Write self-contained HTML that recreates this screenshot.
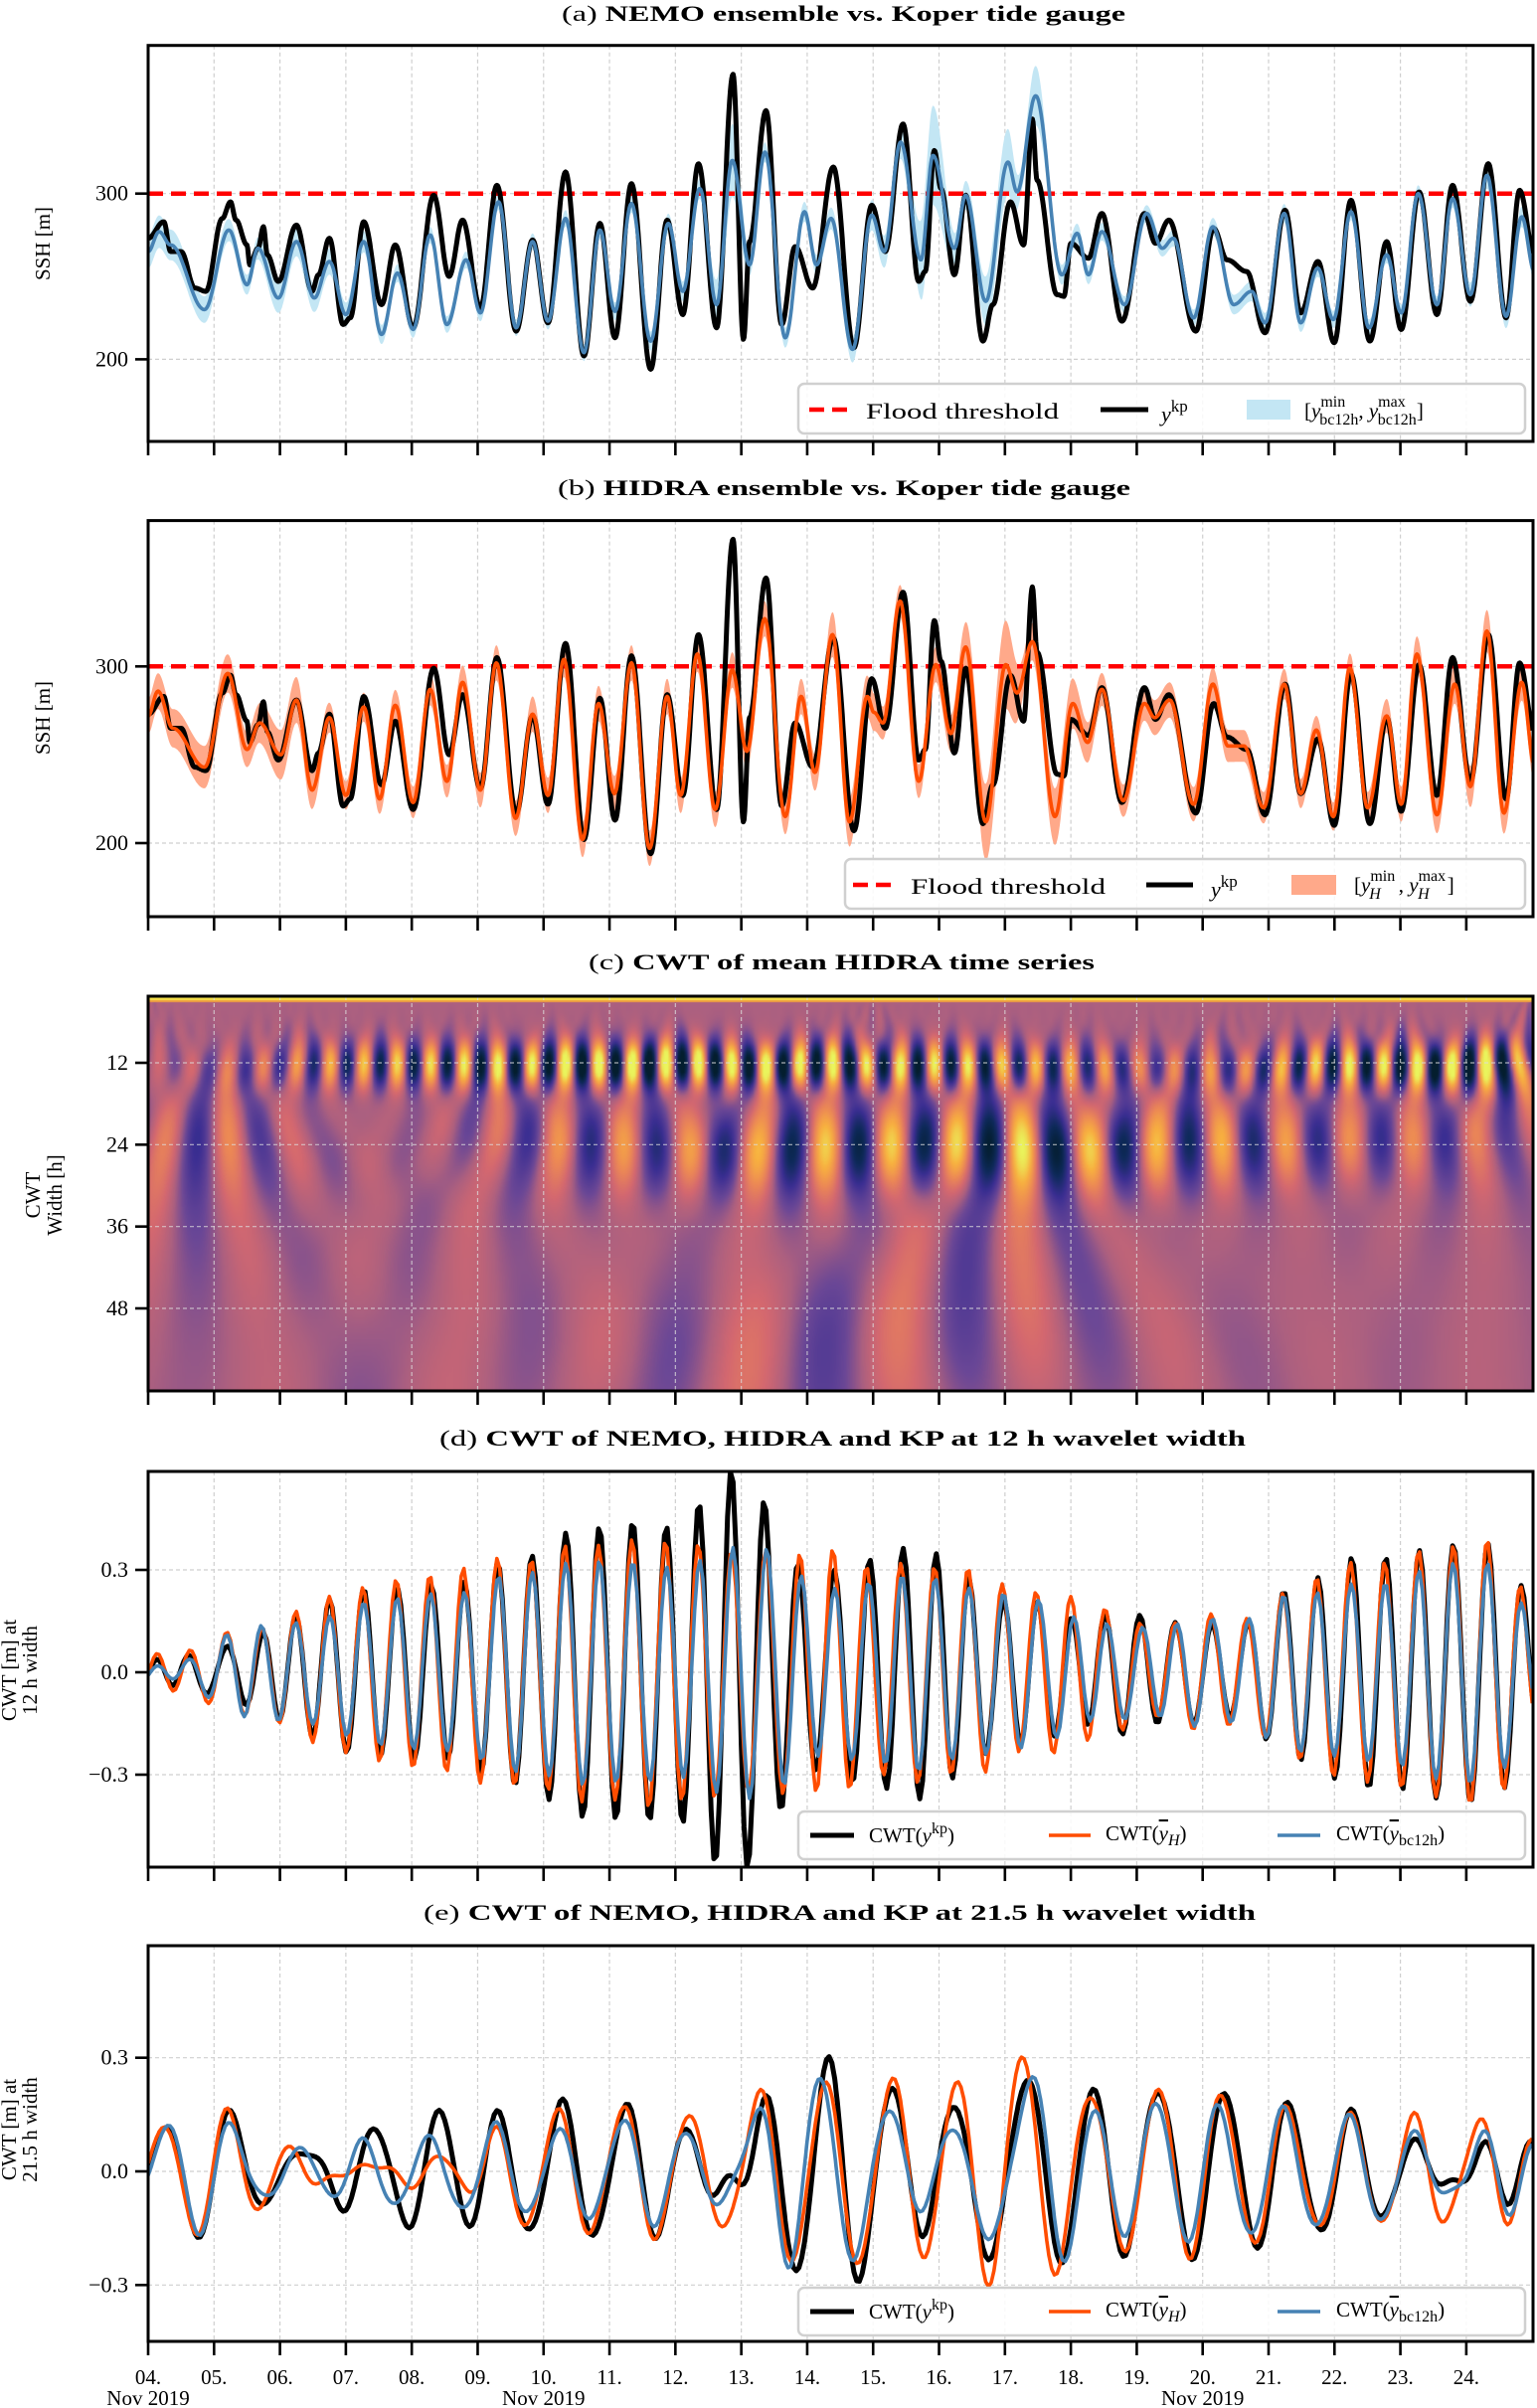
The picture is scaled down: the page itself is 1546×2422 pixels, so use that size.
<!DOCTYPE html>
<html><head><meta charset="utf-8"><title>NEMO / HIDRA ensembles vs Koper tide gauge</title>
<style>
html,body{margin:0;padding:0;background:#fff;}
#wrap{position:relative;width:1546px;height:2422px;overflow:hidden;background:#fff;}
#heat{position:absolute;left:149px;top:1002px;width:1393px;height:397px;}
#chart{position:absolute;left:0;top:0;}
text{font-family:"Liberation Serif","DejaVu Serif",serif;fill:#000;}
</style></head>
<body>
<div id="wrap">
<canvas id="heat" width="1393" height="397"></canvas>
<svg id="chart" width="1546" height="2422" xmlns="http://www.w3.org/2000/svg"></svg>
</div>
<script>
// ---------------- DATA (hours since 04 Nov 2019 00:00, SSH values) ----------------
const kpHours = [0,5.7,8.2,12,17,21,27,30,32,36,37,40,42,43.4,47.4,54,59.7,62,66,71,73.6,78.5,85,90,96.5,104,109.6,114.5,121,127,134,140,145.6,152,158.7,164.5,170,176,183,189,194.7,200.4,207,213,216.8,219,225,230.7,235.6,242,249.5,257,263.5,268.4,274.9,280.6,283,286.3,288.7,293.6,297.7,304,307.6,314,318.8,322,323.7,331,333.5,336,342.4,347.3,354.6,362.8,366.8,371.7,381.5,388,392.9,400,406.7,414,419.7,426,431.9,438,444.9,451,456.3,462.8,469.3,475,481.5,488,494.5,499.4,504.8];
const kpValues = [273,283,265,265,243,241,285,295,284,269,257,267,280,263,247,281,241,251,273,221,225,283,233,269,219,299,250,284,231,305,217,272,222,313,202,282,213,306,194,284,227,318,219,372,212,271,350,221,268,243,316,207,293,265,342,247,253,326,303,251,299,211,233,295,269,345,308,239,238,270,261,288,223,288,270,284,217,279,260,253,216,290,228,259,210,296,211,271,218,301,227,305,235,318,225,302,263];

const bcHours = [0,4,8.2,20.5,29.4,36,40,47.4,54,60.5,66,72,78.5,85,90.8,96.5,102.7,108.8,115.8,121,127.6,134,140,145.6,152,158.7,164.5,170,176,183,189.4,194.7,200.9,207,212.7,219,224.6,232,239,243.4,248.7,256.5,263.5,268,274,281.4,285.8,293.6,297.7,305,313.1,316.4,323.2,332.7,338.3,342.4,347.3,355.5,363.6,369.3,373.3,380.7,387.7,395.3,401.8,406.7,413.7,419.7,425.9,431.6,438,444.6,451,456.3,462.5,469.3,475,481.5,487.5,494.5,500.2,504.8];
const bcValues = [265,277,269,230,278,245,267,237,271,237,259,227,271,215,252,218,275,221,260,228,295,219,271,223,285,204,278,229,294,211,282,241,303,233,320,257,325,213,289,257,285,206,287,265,331,260,323,267,299,235,319,301,359,251,276,251,277,233,288,267,273,225,280,233,241,222,288,222,255,224,289,219,263,228,300,233,297,239,311,226,286,253];
const bcSpreadHours = [0,20,36,48,100,150,200,212.7,220,240,274,285.8,295,313,318,323,330,360,380,400,440,470,487,504];
const bcSpreadValues = [10,8,6,9,5,5,6,22,6,6,10,30,8,20,8,18,6,5,5,6,5,5,8,6];

const hHours = [0,3.6,9,20.5,29,36,40.6,48.3,54,59.7,66,72,78.5,84.3,90,96.5,102.7,108.8,114.5,121,126.8,133.8,140,145.6,151.4,158.2,164,169.8,176,182.6,189,193.9,200,206.5,212.7,218,224.5,232,237.8,242.8,249.2,255.4,261.9,264.3,267.6,273.8,280.6,286.8,292.3,297.7,305,312.3,316.4,322,330.2,336.7,342.1,347.3,355.1,362.8,366.5,372,380.7,387.7,393.2,399,406.2,413.7,419.7,425.4,431.6,437.6,444.1,451,456.3,462,469.3,475.8,481.5,487.5,493.7,500.2,504.8];
const hValues = [272,286,265,243,296,253,268,250,281,230,271,227,277,225,278,223,287,235,291,230,302,214,273,227,304,202,279,228,302,197,283,227,307,219,298,252,327,215,283,240,318,212,283,274,268,337,235,301,262,311,212,301,285,314,215,279,257,287,224,279,271,281,222,290,255,255,220,290,228,264,215,299,220,272,222,307,216,290,232,320,217,291,244];
const hSpreadHours = [0,20,36,48,70,100,130,160,200,240,255,270,290,312,320,330,350,370,400,430,460,490,504];
const hSpreadValues = [10,12,10,14,8,9,10,10,10,10,14,9,10,25,10,16,9,10,9,8,10,12,10];

const floodThreshold = 300;
const sshTicks = [200,300];
const widthTicks = [12,24,36,48];
const cwtTicks = [0.3,0.0,-0.3];
const cwtTickLabels = ["0.3","0.0","\u22120.3"];
const dayLabels = ["04.","05.","06.","07.","08.","09.","10.","11.","12.","13.","14.","15.","16.","17.","18.","19.","20.","21.","22.","23.","24."];
const monthLabelDays = [0,6,16];
const cwtPeriodD = 12;
const cwtPeriodE = 21.5;

// ---------------- helpers ----------------
const NS = "http://www.w3.org/2000/svg";
const svg = document.getElementById('chart');
const X0 = 149, X1 = 1542, HMAX = 504.3;
const xh = h => X0 + (h / HMAX) * (X1 - X0);
function mk(tag, attrs, parent){ const e=document.createElementNS(NS,tag); for(const k in attrs) e.setAttribute(k,attrs[k]); (parent||svg).appendChild(e); return e; }
function interp(T,V,t){
  const n=T.length; if(t<=T[0]) return V[0]; if(t>=T[n-1]) return V[n-1];
  let i=0; while(i<n-2 && T[i+1]<t) i++;
  const f=(t-T[i])/(T[i+1]-T[i]); const w=(1-Math.cos(Math.PI*f))/2;
  return V[i]+(V[i+1]-V[i])*w;
}
function pathFrom(pts){ return pts.map((p,i)=>(i?'L':'M')+p[0].toFixed(1)+' '+p[1].toFixed(1)).join(''); }
const STEP=0.25;
function sampleLine(T,V,ys){ const pts=[]; for(let h=0;h<=HMAX;h+=STEP) pts.push([xh(h),ys(interp(T,V,h))]); return pts; }
function hourly(T,V){ const a=[]; for(let h=0;h<=504;h++) a.push(interp(T,V,h)); return a; }

// CWT: Gaussian-windowed cosine of given period (hours), output in metres
function cwt(series, P, sf){
  const mean = series.reduce((a,b)=>a+b,0)/series.length;
  const x = series.map(v=>(v-mean)/100);
  const sig = (sf||0.8)*P, L = Math.ceil(3*sig);
  const ker=[]; let norm=0;
  for(let k=-L;k<=L;k++){ const g=Math.exp(-k*k/(2*sig*sig))*Math.cos(2*Math.PI*k/P); ker.push(g); norm+=g*Math.cos(2*Math.PI*k/P); }
  const out=[];
  for(let i=0;i<x.length;i++){ let s=0; for(let k=-L;k<=L;k++){ const j=i+k; if(j>=0&&j<x.length) s+=x[j]*ker[k+L]; } out.push(s/norm); }
  return out;
}

// panel geometry
const panels = {
  a:{top:45.7,bot:444, y:v=>194.7+(300-v)*1.667},
  b:{top:523.6,bot:922, y:v=>670.3+(300-v)*1.777},
  c:{top:1002,bot:1399, y:w=>1069+(w-12)*6.861},
  d:{top:1480,bot:1878, y:v=>1682-v*343.3},
  e:{top:1957,bot:2355, y:v=>2184-v*381}
};
const defs = mk('defs',{});
for(const k in panels){ const p=panels[k]; const cp=mk('clipPath',{id:'clip-'+k},defs); mk('rect',{x:X0,y:p.top,width:X1-X0,height:p.bot-p.top},cp); }

function grid(k, ticks, dark){
  const p=panels[k]; const col = dark ? 'rgba(220,220,220,0.75)' : '#cfcfcf';
  const g=mk('g',{});
  
  
  for(let d=1; d<=20; d++){ const x=xh(d*24); mk('line',{x1:x,x2:x,y1:p.top,y2:p.bot,stroke:col,'stroke-width':1.2,'stroke-dasharray':'4,3'},g); }
  ticks.forEach(t=>{ const y=p.y(t); mk('line',{x1:X0,x2:X1,y1:y,y2:y,stroke:col,'stroke-width':1.2,'stroke-dasharray':'4,3'},g); });
}
function frame(k, ticks, labels){
  const p=panels[k];
  const g=mk('g',{});
  
  
  mk('rect',{x:X0,y:p.top,width:X1-X0,height:p.bot-p.top,fill:'none',stroke:'#000','stroke-width':3},g);
  for(let d=0; d<=20; d++){ const x=xh(d*24); mk('line',{x1:x,x2:x,y1:p.bot,y2:p.bot+14,stroke:'#000','stroke-width':2.6},g); }
  ticks.forEach((t,i)=>{ const y=p.y(t); mk('line',{x1:X0-13,x2:X0,y1:y,y2:y,stroke:'#000','stroke-width':2.6},g);
    const tx=mk('text',{x:X0-20,y:y+7,'text-anchor':'end','font-size':22},g); tx.textContent=labels[i];
    
     });
}
function title(txt, bold, x1, x2, yb, name){
  const t=mk('text',{x:x1,y:yb,'font-size':22,textLength:x2-x1,lengthAdjust:'spacingAndGlyphs'});
  
  
  const a=mk('tspan',{},t); a.textContent=txt;
  const b=mk('tspan',{'font-weight':'bold'},t); b.textContent=' '+bold;
}
function ylabel(lines, xs, cy, name){
  lines.forEach((ln,i)=>{ const t=mk('text',{x:0,y:0,'font-size':21,'text-anchor':'middle',transform:`translate(${xs[i]},${cy}) rotate(-90)`}); t.textContent=ln;
    
     });
}
function legendBox(x,y,w,h,name){ const r=mk('rect',{x:x,y:y,width:w,height:h,rx:6,fill:'rgba(255,255,255,0.85)',stroke:'#d0d0d0','stroke-width':2.5});
  
   }

// ---------------- titles ----------------
title('(a)','NEMO ensemble vs. Koper tide gauge',565,1132,21,'title-a');
title('(b)','HIDRA ensemble vs. Koper tide gauge',561,1137,498,'title-b');
title('(c)','CWT of mean HIDRA time series',592,1101,975,'title-c');
title('(d)','CWT of NEMO, HIDRA and KP at 12 h wavelet width',442,1253,1454,'title-d');
title('(e)','CWT of NEMO, HIDRA and KP at 21.5 h wavelet width',426,1263,1931,'title-e');

// ---------------- panel a ----------------
(function(){
  const P=panels.a; grid('a',sshTicks);
  const g=mk('g',{'clip-path':'url(#clip-a)'});
  const up=[],lo=[];
  for(let h=0;h<=HMAX;h+=STEP){ const m=interp(bcHours,bcValues,h), s=interp(bcSpreadHours,bcSpreadValues,h); up.push([xh(h),P.y(m+s)]); lo.push([xh(h),P.y(m-s)]); }
  const band=mk('path',{d:pathFrom(up.concat(lo.reverse()))+'Z',fill:'#c3e6f4',stroke:'none'},g);
  
  
  const fl=mk('line',{x1:X0,x2:X1,y1:P.y(floodThreshold),y2:P.y(floodThreshold),stroke:'#ff0000','stroke-width':4.5,'stroke-dasharray':'15,8'},g);
  
  
  const kp=mk('path',{d:pathFrom(sampleLine(kpHours,kpValues,P.y)),fill:'none',stroke:'#000','stroke-width':5,'stroke-linejoin':'round'},g);
  
  
  const bl=mk('path',{d:pathFrom(sampleLine(bcHours,bcValues,P.y)),fill:'none',stroke:'#4682b4','stroke-width':3.6,'stroke-linejoin':'round'},g);
  
  
  frame('a',sshTicks,sshTicks.map(String));
  ylabel(['SSH [m]'],[50],245,'y-axis-title-a');
})();

// ---------------- panel b ----------------
(function(){
  const P=panels.b; grid('b',sshTicks);
  const g=mk('g',{'clip-path':'url(#clip-b)'});
  const up=[],lo=[];
  for(let h=0;h<=HMAX;h+=STEP){ const m=interp(hHours,hValues,h), s=interp(hSpreadHours,hSpreadValues,h); up.push([xh(h),P.y(m+s)]); lo.push([xh(h),P.y(m-s)]); }
  const band=mk('path',{d:pathFrom(up.concat(lo.reverse()))+'Z',fill:'#ffa98a',stroke:'none'},g);
  
  
  const fl=mk('line',{x1:X0,x2:X1,y1:P.y(floodThreshold),y2:P.y(floodThreshold),stroke:'#ff0000','stroke-width':4.5,'stroke-dasharray':'15,8'},g);
  
  
  const kp=mk('path',{d:pathFrom(sampleLine(kpHours,kpValues,P.y)),fill:'none',stroke:'#000','stroke-width':5,'stroke-linejoin':'round'},g);
  
  
  const ol=mk('path',{d:pathFrom(sampleLine(hHours,hValues,P.y)),fill:'none',stroke:'#ff4d00','stroke-width':3.6,'stroke-linejoin':'round'},g);
  
  
  frame('b',sshTicks,sshTicks.map(String));
  ylabel(['SSH [m]'],[50],722,'y-axis-title-b');
})();

// ---------------- panel c (heatmap) ----------------
(function(){
  const P=panels.c;
  const hs = hourly(hHours,hValues);
  const wMin=2.2, wMax=60.1, rows=117;
  const off=document.createElement('canvas'); off.width=505; off.height=rows;
  const octx=off.getContext('2d'); const img=octx.createImageData(505,rows);
  const stops=[[0,[4,30,46]],[0.13,[14,42,90]],[0.27,[58,46,146]],[0.4,[108,72,150]],[0.5,[172,96,128]],[0.6,[212,104,112]],[0.72,[236,136,86]],[0.85,[248,176,64]],[1,[234,244,92]]];
  function cmap(t){ t=Math.max(0,Math.min(1,t)); for(let i=0;i<stops.length-1;i++){ if(t<=stops[i+1][0]){ const f=(t-stops[i][0])/(stops[i+1][0]-stops[i][0]); return stops[i][1].map((c,j)=>c+(stops[i+1][1][j]-c)*f); } } return stops[stops.length-1][1]; }
  for(let r=0;r<rows;r++){
    const w=wMin+(wMax-wMin)*(r+0.5)/rows;
    const c=cwt(hs,w);
    for(let i=0;i<505;i++){ const col=cmap(0.5+c[i]/0.6); const o=(r*505+i)*4; img.data[o]=col[0]; img.data[o+1]=col[1]; img.data[o+2]=col[2]; img.data[o+3]=255; }
  }
  octx.putImageData(img,0,0);
  const cv=document.getElementById('heat'); const ctx=cv.getContext('2d');
  ctx.imageSmoothingEnabled=true;
  ctx.drawImage(off,0,0,505,rows,0,0,(504/HMAX)*1393,397);
  ctx.fillStyle='#f5e04a'; ctx.fillRect(0,0,1393,4);
  ctx.fillStyle='#f0a040'; ctx.fillRect(0,4,1393,2);
  grid('c',widthTicks,true);
  frame('c',widthTicks,widthTicks.map(String));
  ylabel(['CWT','Width [h]'],[40,62],1202,'y-axis-title-c');
})();

// ---------------- panels d & e ----------------
function cwtPanel(k, period, sf, ylab, cy){
  const P=panels[k]; grid(k,cwtTicks);
  const g=mk('g',{'clip-path':`url(#clip-${k})`});
  const series=[[kpHours,kpValues,'#000',5,'cwt-kp-line'],[hHours,hValues,'#ff4d00',3.6,'cwt-hidra-line'],[bcHours,bcValues,'#4682b4',3.6,'cwt-nemo-line']];
  series.forEach(s=>{
    const c=cwt(hourly(s[0],s[1]),period,sf);
    const pts=[]; for(let h=0;h<=504;h+=0.25){ const i=Math.floor(h), f=h-i; const v=i>=504?c[504]:c[i]+(c[i+1]-c[i])*f; pts.push([xh(h),P.y(v)]); }
    const pl=mk('path',{d:pathFrom(pts),fill:'none',stroke:s[2],'stroke-width':s[3],'stroke-linejoin':'round'},g);
    
    
  });
  frame(k,cwtTicks,cwtTickLabels);
  ylabel(ylab,[16,37],cy,'y-axis-title-'+k);
}
cwtPanel('d',cwtPeriodD,0.8,['CWT [m] at','12 h width'],1680);
cwtPanel('e',cwtPeriodE,0.55,['CWT [m] at','21.5 h width'],2142);

// ---------------- x tick labels ----------------
dayLabels.forEach((lab,d)=>{ const t=mk('text',{x:xh(d*24),y:2398,'text-anchor':'middle','font-size':21}); t.textContent=lab;
  
   });
monthLabelDays.forEach(d=>{ const t=mk('text',{x:xh(d*24),y:2419,'text-anchor':'middle','font-size':21}); t.textContent='Nov 2019';
  
   });

// ---------------- legends ----------------
function txt(x,y,size,content,extra){ const t=mk('text',Object.assign({x:x,y:y,'font-size':size},extra||{})); t.innerHTML=content; return t; }
legendBox(803,386,731,50,'legend-a');
(function(){
  const l1=mk('line',{x1:814,x2:852,y1:412,y2:412,stroke:'#ff0000','stroke-width':4.5,'stroke-dasharray':'15,8'});
  
  
  const t1=txt(871,421,22,'Flood threshold',{textLength:194,lengthAdjust:'spacingAndGlyphs'});
  
  
  const l2=mk('line',{x1:1107,x2:1155,y1:412,y2:412,stroke:'#000','stroke-width':5});
  
  
  const t2=txt(1168,424,22,'<tspan font-style="italic">y</tspan><tspan dy="-10" font-size="17">kp</tspan>');
  
  
  const r=mk('rect',{x:1254,y:402,width:44,height:20,fill:'#c3e6f4'});
  
  
  const t3=txt(1312,420,21,'[<tspan font-style="italic">y</tspan><tspan dy="-11" font-size="16">min</tspan><tspan dx="-26" dy="18" font-size="16">bc12h</tspan><tspan dy="-7">, </tspan><tspan font-style="italic">y</tspan><tspan dy="-11" font-size="16">max</tspan><tspan dx="-28" dy="18" font-size="16">bc12h</tspan><tspan dy="-7">]</tspan>');
  
  
})();
legendBox(850,864,684,50,'legend-b');
(function(){
  const l1=mk('line',{x1:858,x2:898,y1:890,y2:890,stroke:'#ff0000','stroke-width':4.5,'stroke-dasharray':'15,8'});
  
  
  const t1=txt(916,899,22,'Flood threshold',{textLength:196,lengthAdjust:'spacingAndGlyphs'});
  
  
  const l2=mk('line',{x1:1153,x2:1200,y1:890,y2:890,stroke:'#000','stroke-width':5});
  
  
  const t2=txt(1218,902,22,'<tspan font-style="italic">y</tspan><tspan dy="-10" font-size="17">kp</tspan>');
  
  
  const r=mk('rect',{x:1299,y:880,width:45,height:20,fill:'#ffa98a'});
  
  
  const t3=txt(1362,897,21,'[<tspan font-style="italic">y</tspan><tspan dy="-11" font-size="16">min</tspan><tspan dx="-26" dy="18" font-size="16" font-style="italic">H</tspan><tspan dx="18" dy="-7">, </tspan><tspan font-style="italic">y</tspan><tspan dy="-11" font-size="16">max</tspan><tspan dx="-28" dy="18" font-size="16" font-style="italic">H</tspan><tspan dx="18" dy="-7">]</tspan>');
  
  
})();
function cwtLegend(y0,k){
  legendBox(803,y0,731,48,'legend-'+k);
  const cy=y0+24, by=y0+31;
  const l1=mk('line',{x1:815,x2:859,y1:cy,y2:cy,stroke:'#000','stroke-width':5});
  
  
  const t1=txt(874,by,21,'CWT(<tspan font-style="italic">y</tspan><tspan dy="-9" font-size="16">kp</tspan><tspan dy="9">)</tspan>');
  
  
  const l2=mk('line',{x1:1055,x2:1097,y1:cy,y2:cy,stroke:'#ff4d00','stroke-width':3.6});
  
  
  const t2=txt(1112,by-2,21,'CWT(<tspan font-style="italic" text-decoration="overline">y</tspan><tspan dy="5" font-size="16" font-style="italic">H</tspan><tspan dy="-5">)</tspan>');
  
  
  const l3=mk('line',{x1:1285,x2:1328,y1:cy,y2:cy,stroke:'#4682b4','stroke-width':3.6});
  
  
  const t3=txt(1344,by-2,21,'CWT(<tspan font-style="italic" text-decoration="overline">y</tspan><tspan dy="5" font-size="16">bc12h</tspan><tspan dy="-5">)</tspan>');
  
  
}
cwtLegend(1822,'d');
cwtLegend(2301,'e');
</script>
</body></html>
